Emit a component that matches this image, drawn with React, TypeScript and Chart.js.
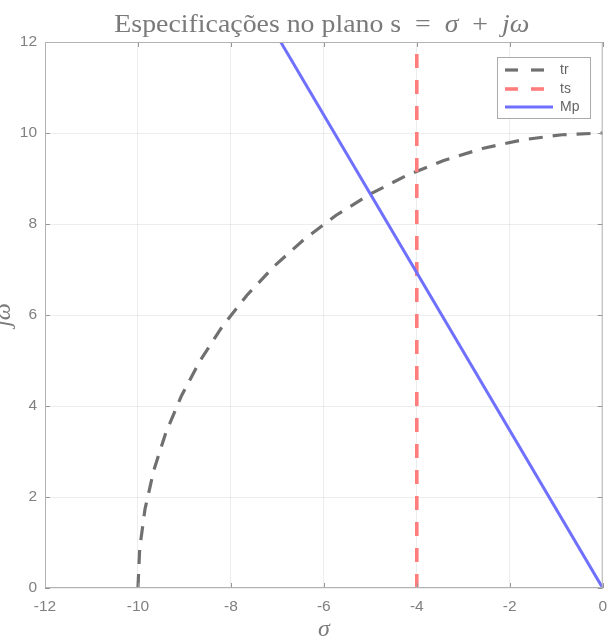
import React, { useEffect, useRef } from "react";
import { Chart, registerables } from "chart.js";

Chart.register(...registerables);

// Rise-time circle (ωn = 10), points every 5°
const trSigma = [-10, -9.962, -9.848, -9.659, -9.397, -9.063, -8.66, -8.192, -7.66, -7.071, -6.428, -5.736, -5.0, -4.226, -3.42, -2.588, -1.736, -0.872, 0];
const trOmega = [0, 0.872, 1.736, 2.588, 3.42, 4.226, 5.0, 5.736, 6.428, 7.071, 7.66, 8.192, 8.66, 9.063, 9.397, 9.659, 9.848, 9.962, 10];

// Settling-time boundary σ = -4
const tsSigma = [-4, -4];
const tsOmega = [0, 12];

// Overshoot boundary (60° ray from the origin)
const mpSigma = [0, -6.928];
const mpOmega = [0, 12];

const seriesNames = ["tr", "ts", "Mp"];
const seriesColors = ["rgb(112,112,112)", "rgb(255,125,125)", "rgb(112,112,255)"];
const seriesDash = [[14, 10], [14, 12], []];
const seriesWidth = [3.2, 3.6, 3];

const xTicks = [-12, -10, -8, -6, -4, -2, 0];
const yTicks = [0, 2, 4, 6, 8, 10, 12];

const toPoints = (xs: number[], ys: number[]) => xs.map((x, i) => ({ x, y: ys[i] }));

const TEXT_GREY = "rgb(122,122,122)";
const TICK_GREY = "rgb(128,128,128)";

const decorPlugin = {
  id: "decor",
  afterDraw(chart: any) {
    const { ctx, chartArea, scales } = chart;
    const { left, right, top, bottom } = chartArea;
    ctx.save();

    // inward tick marks
    ctx.strokeStyle = "rgb(150,150,150)";
    ctx.lineWidth = 1;
    ctx.beginPath();
    xTicks.forEach((v) => {
      const px = Math.round(scales.x.getPixelForValue(v)) + 0.5;
      ctx.moveTo(px, bottom);
      ctx.lineTo(px, bottom - 5);
      ctx.moveTo(px, top);
      ctx.lineTo(px, top + 5);
    });
    yTicks.forEach((v) => {
      const py = Math.round(scales.y.getPixelForValue(v)) + 0.5;
      ctx.moveTo(left, py);
      ctx.lineTo(left + 5, py);
      ctx.moveTo(right, py);
      ctx.lineTo(right - 5, py);
    });
    ctx.stroke();

    // axes box
    ctx.strokeStyle = "rgb(178,178,178)";
    ctx.lineWidth = 1;
    ctx.strokeRect(left + 0.5, top + 0.5, right - left - 1, bottom - top - 1);

    // title with italic math parts
    const parts: [string, boolean][] = [
      ["Especificações no plano s  =  ", false],
      ["σ", true],
      ["  +  ", false],
      ["jω", true],
    ];
    const size = 26;
    const fontFor = (it: boolean) => `${it ? "italic " : ""}${size}px "Liberation Serif", serif`;
    let total = 0;
    for (const [t, it] of parts) {
      ctx.font = fontFor(it);
      total += ctx.measureText(t).width;
    }
    const targetW = 415;
    const sx = targetW / total;
    ctx.save();
    ctx.translate((left + right) / 2 - targetW / 2 - 2, 32);
    ctx.scale(sx, 1);
    let x = 0;
    ctx.fillStyle = TEXT_GREY;
    ctx.textBaseline = "alphabetic";
    ctx.textAlign = "left";
    for (const [t, it] of parts) {
      ctx.font = fontFor(it);
      ctx.fillText(t, x, 0);
      x += ctx.measureText(t).width;
    }
    ctx.restore();

    // axis titles
    ctx.fillStyle = TEXT_GREY;
    ctx.font = 'italic 24px "Liberation Serif", serif';
    ctx.textAlign = "center";
    ctx.textBaseline = "alphabetic";
    ctx.fillText("σ", (left + right) / 2, 636);

    ctx.save();
    ctx.translate(10, (top + bottom) / 2);
    ctx.rotate(-Math.PI / 2);
    ctx.fillText("jω", 0, 0);
    ctx.restore();

    // legend
    const lx = 497, ly = 57, lw = 93, lh = 61;
    ctx.fillStyle = "#ffffff";
    ctx.fillRect(lx, ly, lw, lh);
    ctx.strokeStyle = "rgb(170,170,170)";
    ctx.lineWidth = 1;
    ctx.strokeRect(lx + 0.5, ly + 0.5, lw, lh);
    const rows = [70, 89, 107];
    ctx.font = '14px "Liberation Sans", Arial, sans-serif';
    ctx.textAlign = "left";
    ctx.textBaseline = "middle";
    seriesNames.forEach((name, i) => {
      ctx.strokeStyle = seriesColors[i];
      ctx.lineWidth = seriesWidth[i];
      ctx.setLineDash(i < 2 ? [13, 13] : []);
      ctx.beginPath();
      ctx.moveTo(505, rows[i]);
      ctx.lineTo(553, rows[i]);
      ctx.stroke();
      ctx.setLineDash([]);
      ctx.fillStyle = "rgb(100,100,100)";
      ctx.fillText(name, 560, rows[i]);
    });

    ctx.restore();
  },
};

export default function App() {
  const canvasRef = useRef<HTMLCanvasElement | null>(null);

  useEffect(() => {
    if (!canvasRef.current) return;
    const mk = (xs: number[], ys: number[], i: number) => ({
      label: seriesNames[i],
      data: toPoints(xs, ys),
      showLine: true,
      borderColor: seriesColors[i],
      backgroundColor: seriesColors[i],
      borderWidth: seriesWidth[i],
      borderDash: seriesDash[i],
      pointRadius: 0,
      tension: 0,
      order: 3 - i,
    });
    const tickFont = { family: '"Liberation Sans", Arial, sans-serif', size: 15.5 };
    const chart = new Chart(canvasRef.current, {
      type: "scatter",
      data: {
        datasets: [mk(trSigma, trOmega, 0), mk(tsSigma, tsOmega, 1), mk(mpSigma, mpOmega, 2)],
      },
      options: {
        animation: false,
        responsive: false,
        maintainAspectRatio: false,
        layout: { padding: { top: 42, right: 12, left: 0, bottom: 0 } },
        plugins: { legend: { display: false }, tooltip: { enabled: false }, title: { display: false } },
        scales: {
          x: {
            type: "linear",
            min: -12,
            max: 0,
            afterBuildTicks: (s: any) => {
              s.ticks = xTicks.map((v) => ({ value: v }));
            },
            afterFit: (s: any) => {
              s.height = 54;
            },
            ticks: {
              color: TICK_GREY,
              font: tickFont,
              padding: 9,
              callback: (v: any) => String(v),
            },
            grid: { color: "rgba(0,0,0,0.07)", drawTicks: false },
            border: { display: false },
          },
          y: {
            type: "linear",
            min: 0,
            max: 12,
            afterBuildTicks: (s: any) => {
              s.ticks = yTicks.map((v) => ({ value: v }));
            },
            afterFit: (s: any) => {
              s.width = 45;
            },
            ticks: {
              color: TICK_GREY,
              font: tickFont,
              padding: 8,
              callback: (v: any) => String(v),
            },
            grid: { color: "rgba(0,0,0,0.07)", drawTicks: false },
            border: { display: false },
          },
        },
      },
      plugins: [decorPlugin],
    } as any);
    return () => chart.destroy();
  }, []);

  return (
    <div style={{ position: "fixed", left: 0, top: 0, width: 616, height: 642, background: "#fff" }}>
      <canvas ref={canvasRef} width={616} height={642} style={{ display: "block" }} />
    </div>
  );
}
